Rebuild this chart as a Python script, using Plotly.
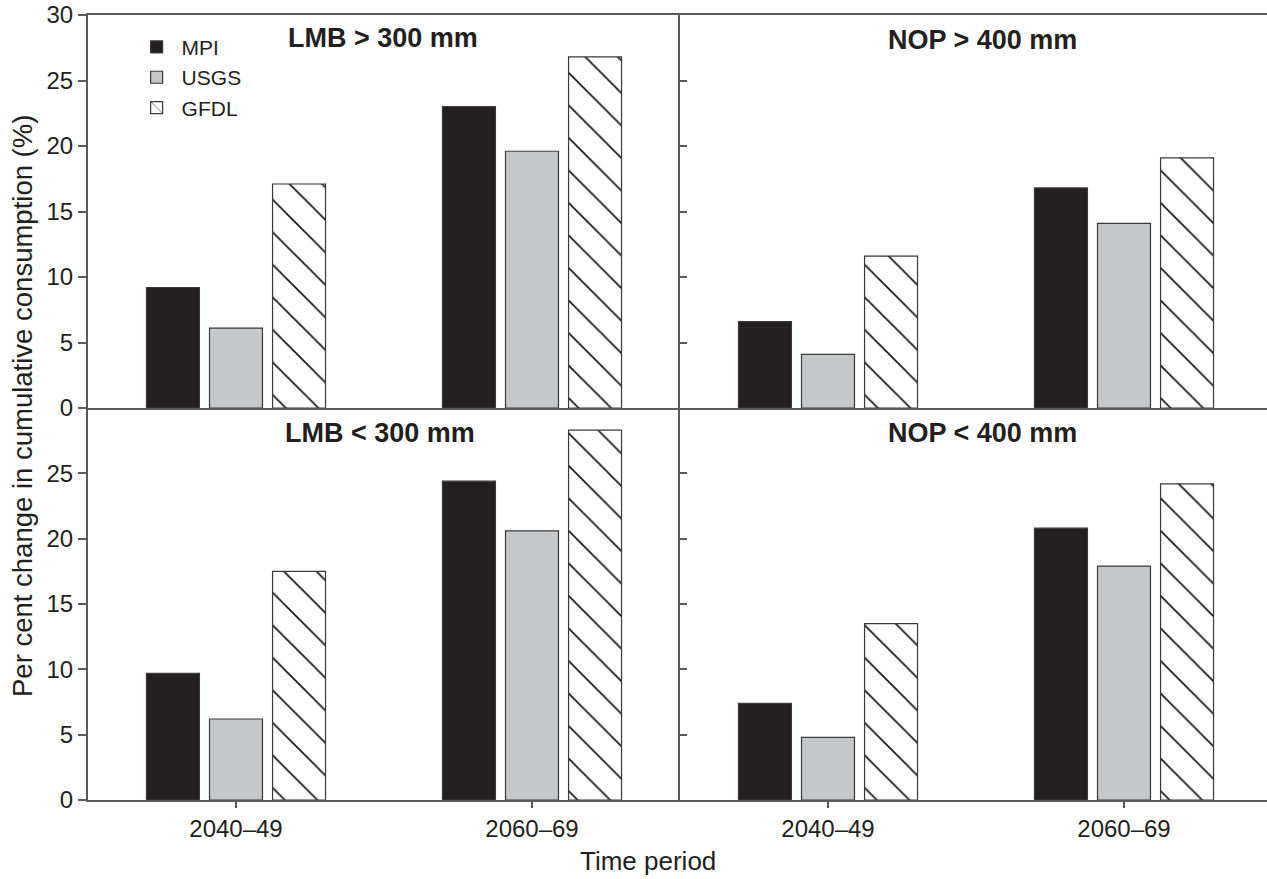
import plotly.graph_objects as go

# ---- data ----
periods = ["2040\u201349", "2060\u201369"]
models = ["MPI", "USGS", "GFDL"]

lmb_gt_mpi = [9.2, 23.0]
lmb_gt_usgs = [6.1, 19.6]
lmb_gt_gfdl = [17.1, 26.8]

nop_gt_mpi = [6.6, 16.8]
nop_gt_usgs = [4.1, 14.1]
nop_gt_gfdl = [11.6, 19.1]

lmb_lt_mpi = [9.7, 24.4]
lmb_lt_usgs = [6.2, 20.6]
lmb_lt_gfdl = [17.5, 28.3]

nop_lt_mpi = [7.4, 20.8]
nop_lt_usgs = [4.8, 17.9]
nop_lt_gfdl = [13.5, 24.2]

panel_titles = ["LMB > 300 mm", "NOP > 400 mm", "LMB < 300 mm", "NOP < 400 mm"]

panels = [
    ("x", "y", [lmb_gt_mpi, lmb_gt_usgs, lmb_gt_gfdl]),
    ("x2", "y2", [nop_gt_mpi, nop_gt_usgs, nop_gt_gfdl]),
    ("x3", "y3", [lmb_lt_mpi, lmb_lt_usgs, lmb_lt_gfdl]),
    ("x4", "y4", [nop_lt_mpi, nop_lt_usgs, nop_lt_gfdl]),
]

# ---- styling ----
FONT = "Liberation Sans, Arial, sans-serif"
LINE = "#5a5a5a"
TXT = "#231f20"
W, H = 1267, 879
ML, MR, MT, MB = 88, 0, 15, 79
PW = W - ML - MR
PH = H - MT - MB
LEFT_W = 592

bar_w = 0.179
step = 0.213
xpos = list(range(len(periods)))

styles = {
    "MPI": dict(color="#231f20", line=dict(color="#3a3a3a", width=1.2)),
    "USGS": dict(color="#c6c7c9", line=dict(color="#3a3a3a", width=1.2)),
    "GFDL": dict(color="white", line=dict(color="#3a3a3a", width=1.2),
                 pattern=dict(shape="\\", fgcolor="#111111", bgcolor="white",
                              size=23, solidity=0.07, fillmode="replace")),
}

fig = go.Figure()
for pi, (xa, ya, series) in enumerate(panels):
    for mi, (name, vals) in enumerate(zip(models, series)):
        fig.add_trace(go.Bar(
            x=xpos, y=vals, name=name, xaxis=xa, yaxis=ya,
            width=bar_w, offset=(mi - 1) * step - bar_w / 2,
            marker=styles[name], showlegend=(pi == 0), legendgroup=name,
        ))

xsplit = LEFT_W / PW
ysplit = 392 / PH
right_max = -0.5 + 2 * (PW - LEFT_W) / LEFT_W

TICKFONT = dict(family=FONT, size=24, color=TXT)
common_x = dict(showline=True, linecolor=LINE, linewidth=2,
                showgrid=False, zeroline=False, tickvals=xpos, ticktext=periods,
                tickfont=TICKFONT)
common_y = dict(showline=True, linecolor=LINE, linewidth=2, mirror=False,
                showgrid=False, zeroline=False, range=[0, 30],
                tickfont=TICKFONT)

fig.update_layout(
    width=W, height=H,
    margin=dict(l=ML, r=MR, t=MT, b=MB),
    paper_bgcolor="white", plot_bgcolor="white",
    barmode="overlay",
    font=dict(family=FONT, color=TXT),
    xaxis=dict(common_x, mirror=True, domain=[0, xsplit], range=[-0.5, 1.5], anchor="y",
               showticklabels=False, ticks=""),
    xaxis2=dict(common_x, mirror=True, domain=[xsplit, 1], range=[-0.5, right_max], anchor="y2",
                showticklabels=False, ticks=""),
    xaxis3=dict(common_x, mirror=False, domain=[0, xsplit], range=[-0.5, 1.5], anchor="y3",
                ticks="outside", ticklen=6, tickcolor=LINE, tickwidth=1.5),
    xaxis4=dict(common_x, mirror=False, domain=[xsplit, 1], range=[-0.5, right_max], anchor="y4",
                ticks="outside", ticklen=6, tickcolor=LINE, tickwidth=1.5),
    yaxis=dict(common_y, domain=[ysplit, 1], anchor="x",
               tickvals=[0, 5, 10, 15, 20, 25, 30], ticks="outside", ticklen=8,
               tickcolor=LINE, tickwidth=1.5),
    yaxis2=dict(common_y, domain=[ysplit, 1], anchor="x2",
                tickvals=[5, 10, 15, 20, 25], ticks="inside", ticklen=7,
                tickcolor=LINE, tickwidth=1.5, showticklabels=False),
    yaxis3=dict(common_y, domain=[0, ysplit], anchor="x3",
                tickvals=[0, 5, 10, 15, 20, 25], ticks="outside", ticklen=8,
                tickcolor=LINE, tickwidth=1.5),
    yaxis4=dict(common_y, domain=[0, ysplit], anchor="x4",
                tickvals=[5, 10, 15, 20, 25], ticks="inside", ticklen=7,
                tickcolor=LINE, tickwidth=1.5, showticklabels=False),
    legend=dict(x=0.037, y=0.985, xanchor="left", yanchor="top",
                bgcolor="rgba(0,0,0,0)", font=dict(family=FONT, size=21, color=TXT),
                itemwidth=40, tracegroupgap=0),
)

def px_x(px):
    return (px - ML) / PW

def px_y(py):
    return (H - MB - py) / PH

title_pos = [(383, 38), (982, 40), (380, 433), (982, 433)]
for t, (cx, cy) in zip(panel_titles, title_pos):
    fig.add_annotation(text="<b>" + t + "</b>", x=px_x(cx), y=px_y(cy),
                       xref="paper", yref="paper", showarrow=False,
                       xanchor="center", yanchor="middle",
                       font=dict(family=FONT, size=27, color=TXT))

fig.add_annotation(text="Per cent change in cumulative consumption (%)",
                   x=px_x(22), y=px_y(406), xref="paper", yref="paper",
                   showarrow=False, textangle=-90, xanchor="center", yanchor="middle",
                   font=dict(family=FONT, size=27.5, color=TXT))
fig.add_annotation(text="Time period", x=px_x(648), y=px_y(861),
                   xref="paper", yref="paper", showarrow=False,
                   xanchor="center", yanchor="middle",
                   font=dict(family=FONT, size=26, color=TXT))

fig.write_html("out.html",
               config={"displayModeBar": False},
               post_script="document.body.style.margin='0px';"
                           "document.body.style.overflow='hidden';")
